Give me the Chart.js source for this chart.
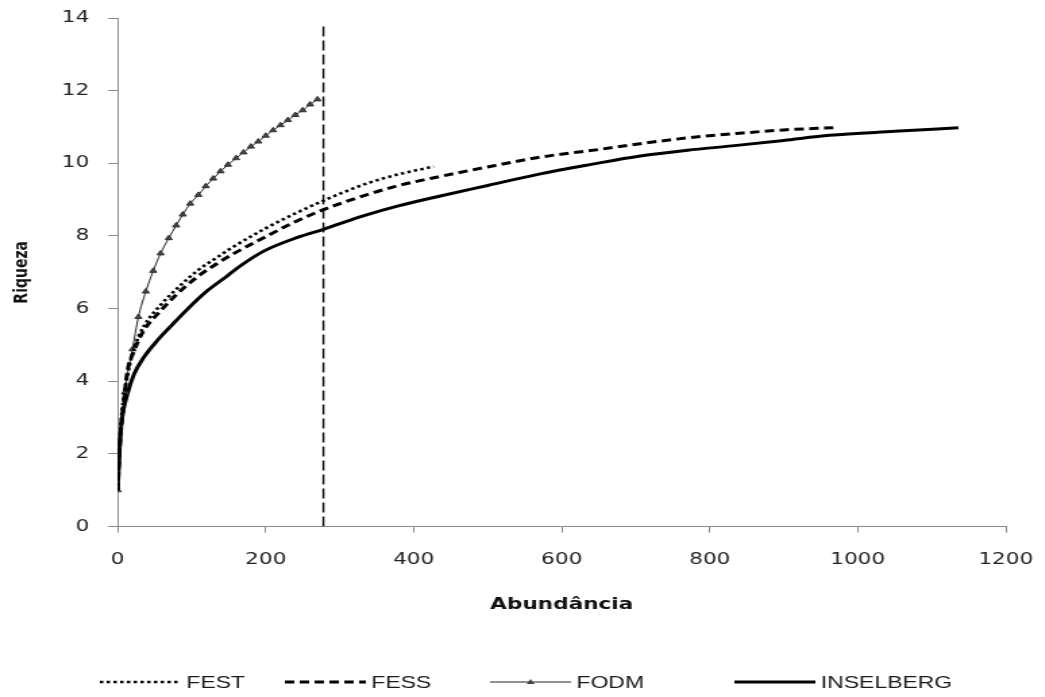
<!DOCTYPE html>
<html>
<head>
<meta charset="utf-8">
<script src="https://cdn.jsdelivr.net/npm/chart.js@4.4.1/dist/chart.umd.min.js"></script>
<style>
  html, body { margin: 0; padding: 0; background: #fff; overflow: hidden; }
  /* the reference is stretched sideways, so the chart is drawn narrow and scaled */
  #wrap { width: 774px; height: 697px; transform: scaleX(1.35); transform-origin: 0 0; }
</style>
</head>
<body>
<div id="wrap"><canvas id="chart"></canvas></div>
<script>
// Rarefaction curves: abundance (x) vs richness (y)
const festX = [0, 3, 6, 10, 15, 22, 35, 58, 80, 108, 135, 153, 198, 243, 279, 333, 378, 427];
const festY = [1, 2.4, 3.2, 3.8, 4.35, 4.9, 5.5, 6.1, 6.55, 7.05, 7.42, 7.66, 8.19, 8.65, 8.98, 9.42, 9.69, 9.91];

const fessX = [0, 3, 8, 13, 22, 35, 58, 80, 108, 135, 153, 198, 243, 279, 333, 378, 436, 500, 571, 650, 706, 770, 836, 900, 967];
const fessY = [1, 2.3, 3.36, 4.25, 4.83, 5.39, 5.94, 6.4, 6.88, 7.25, 7.47, 7.96, 8.42, 8.73, 9.11, 9.38, 9.64, 9.9, 10.17, 10.38, 10.54, 10.7, 10.82, 10.92, 10.98];

const fodmX = [0, 10, 20, 28, 38, 48, 58, 69, 79, 88, 98, 109, 119, 129, 139, 149, 160, 170, 180, 190, 200, 210, 220, 230, 240, 250, 260, 270];
const fodmY = [1, 3.7, 4.88, 5.77, 6.47, 7.04, 7.52, 7.94, 8.29, 8.59, 8.89, 9.13, 9.37, 9.58, 9.78, 9.96, 10.14, 10.3, 10.46, 10.6, 10.76, 10.91, 11.05, 11.19, 11.33, 11.46, 11.62, 11.76];

const inselX = [0, 3, 6, 13, 22, 35, 53, 72, 94, 121, 148, 166, 198, 243, 279, 333, 378, 436, 500, 571, 640, 706, 770, 830, 900, 962, 1050, 1136];
const inselY = [1, 2.3, 2.99, 3.64, 4.19, 4.65, 5.11, 5.52, 5.98, 6.49, 6.9, 7.18, 7.59, 7.96, 8.19, 8.56, 8.82, 9.1, 9.39, 9.71, 9.97, 10.2, 10.36, 10.48, 10.63, 10.77, 10.88, 10.98];

// vertical reference line
const cutX = [278, 278];
const cutY = [0, 13.85];

const xTicks = [0, 200, 400, 600, 800, 1000, 1200];
const yTicks = [0, 2, 4, 6, 8, 10, 12, 14];

const pts = (xs, ys) => xs.map((x, i) => ({ x: x, y: ys[i] }));

// legend under the chart, drawn by hand so the line samples look like Excel's
const bottomLegend = {
    id: 'bottomLegend',
    afterDraw(chart, args, opts) {
        const ctx = chart.ctx;
        ctx.save();
        ctx.font = opts.font;
        ctx.textBaseline = 'middle';
        let k = 0;
        chart.data.datasets.forEach(ds => {
            if (ds.noLegend) return;
            const x0 = opts.xs[k++];
            const y = opts.y;
            ctx.strokeStyle = ds.borderColor;
            ctx.lineWidth = ds.borderWidth;
            ctx.setLineDash(ds.borderDash || []);
            ctx.beginPath();
            ctx.moveTo(x0, y);
            ctx.lineTo(x0 + opts.lineLen, y);
            ctx.stroke();
            ctx.setLineDash([]);
            if (ds.pointRadius > 0) {
                const cx = x0 + opts.lineLen / 2, r = ds.pointRadius;
                ctx.fillStyle = ds.pointBackgroundColor;
                ctx.beginPath();
                ctx.moveTo(cx, y - r);
                ctx.lineTo(cx + r, y + r * 0.7);
                ctx.lineTo(cx - r, y + r * 0.7);
                ctx.closePath();
                ctx.fill();
            }
            ctx.fillStyle = '#1a1a1a';
            ctx.fillText(ds.label, x0 + opts.lineLen + 4, y + 1);
        });
        ctx.restore();
    }
};

Chart.defaults.font.family = 'DejaVu Sans';
Chart.defaults.color = '#222';

const axisGrey = '#8a8a8a';

new Chart(document.getElementById('chart'), {
    type: 'line',
    data: {
        datasets: [
            {
                label: 'FEST',
                data: pts(festX, festY),
                borderColor: '#000',
                borderWidth: 2.6,
                borderDash: [2.5, 2.5],
                pointRadius: 0,
                cubicInterpolationMode: 'monotone',
                fill: false
            },
            {
                label: 'FESS',
                data: pts(fessX, fessY),
                borderColor: '#000',
                borderWidth: 3,
                borderDash: [7, 4],
                pointRadius: 0,
                cubicInterpolationMode: 'monotone',
                fill: false
            },
            {
                label: 'FODM',
                data: pts(fodmX, fodmY),
                borderColor: '#222',
                borderWidth: 1,
                pointStyle: 'triangle',
                pointRadius: 3,
                pointBackgroundColor: '#444',
                pointBorderColor: '#333',
                pointBorderWidth: 1,
                cubicInterpolationMode: 'monotone',
                fill: false
            },
            {
                label: 'INSELBERG',
                data: pts(inselX, inselY),
                borderColor: '#000',
                borderWidth: 3,
                pointRadius: 0,
                cubicInterpolationMode: 'monotone',
                fill: false
            },
            {
                label: 'corte',
                noLegend: true,
                data: pts(cutX, cutY),
                borderColor: '#000',
                borderWidth: 1.4,
                borderDash: [10, 4],
                pointRadius: 0,
                fill: false
            }
        ]
    },
    options: {
        responsive: true,
        maintainAspectRatio: false,
        animation: false,
        layout: { padding: { top: 18, right: 29, bottom: 83, left: 8 } },
        plugins: {
            legend: { display: false },
            tooltip: { enabled: false },
            bottomLegend: {
                xs: [74, 211, 363, 544],
                y: 682,
                lineLen: 60,
                font: '17px "Liberation Sans"'
            }
        },
        scales: {
            x: {
                type: 'linear',
                min: 0,
                max: 1200,
                afterBuildTicks: axis => { axis.ticks = xTicks.map(v => ({ value: v })); },
                afterFit: axis => { axis.paddingRight = 0; },
                grid: { drawOnChartArea: false, drawTicks: true, tickLength: 6, color: axisGrey },
                border: { display: true, color: axisGrey, width: 1 },
                ticks: { padding: 18, color: '#222', font: { size: 16 }, callback: v => String(v) },
                title: {
                    display: true,
                    text: 'Abundância',
                    color: '#111',
                    font: { size: 16, weight: 'bold' },
                    padding: { top: 7, bottom: 0 }
                }
            },
            y: {
                min: 0,
                max: 14,
                afterBuildTicks: axis => { axis.ticks = yTicks.map(v => ({ value: v })); },
                afterFit: axis => { axis.paddingTop = 0; },
                grid: { drawOnChartArea: false, drawTicks: true, tickLength: 7, color: axisGrey },
                border: { display: true, color: axisGrey, width: 1 },
                ticks: { padding: 14, color: '#222', font: { size: 16 }, callback: v => String(v) },
                title: {
                    display: true,
                    text: 'Riqueza',
                    color: '#111',
                    font: { size: 14, weight: 'bold' },
                    padding: { top: 0, bottom: 7 }
                }
            }
        }
    },
    plugins: [bottomLegend]
});
</script>
</body>
</html>
